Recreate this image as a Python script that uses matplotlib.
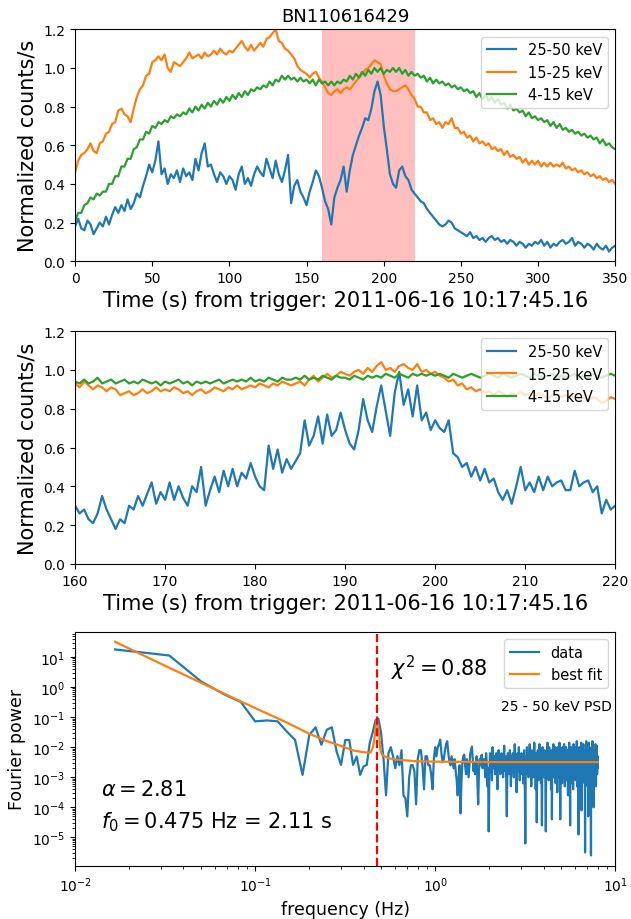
import numpy as np
import matplotlib
matplotlib.use('Agg')
import matplotlib.pyplot as plt

title = 'BN110616429'
time_label = 'Time (s) from trigger: 2011-06-16 10:17:45.16'
band_labels = ['25-50 keV', '15-25 keV', '4-15 keV']
colors = ['#1f77b4', '#ff7f0e', '#2ca02c']

# top panel: light curves, one value every 2 s from 0 to 350 s
lc_high = [0.18, 0.22, 0.17, 0.16, 0.21, 0.19, 0.14, 0.17, 0.20, 0.18,
	0.23, 0.19, 0.24, 0.28, 0.25, 0.29, 0.26, 0.32, 0.27, 0.30,
	0.35, 0.33, 0.39, 0.44, 0.50, 0.46, 0.52, 0.62, 0.45, 0.48,
	0.40, 0.45, 0.43, 0.47, 0.41, 0.48, 0.44, 0.46, 0.42, 0.53,
	0.47, 0.56, 0.61, 0.49, 0.50, 0.45, 0.41, 0.46, 0.44, 0.40,
	0.44, 0.42, 0.37, 0.45, 0.49, 0.40, 0.43, 0.39, 0.45, 0.49,
	0.46, 0.44, 0.53, 0.48, 0.43, 0.52, 0.45, 0.41, 0.47, 0.55,
	0.30, 0.39, 0.42, 0.36, 0.33, 0.29, 0.36, 0.41, 0.47, 0.44,
	0.38, 0.31, 0.27, 0.19, 0.33, 0.38, 0.42, 0.49, 0.36, 0.47,
	0.55, 0.60, 0.65, 0.69, 0.74, 0.73, 0.79, 0.88, 0.93, 0.86,
	0.70, 0.58, 0.45, 0.40, 0.38, 0.47, 0.49, 0.44, 0.42, 0.37,
	0.35, 0.33, 0.31, 0.30, 0.27, 0.25, 0.23, 0.21, 0.19, 0.18,
	0.19, 0.21, 0.20, 0.17, 0.16, 0.15, 0.14, 0.13, 0.15, 0.12,
	0.13, 0.11, 0.12, 0.10, 0.12, 0.13, 0.11, 0.12, 0.10, 0.11,
	0.09, 0.11, 0.10, 0.08, 0.10, 0.09, 0.07, 0.09, 0.08, 0.10,
	0.09, 0.11, 0.08, 0.10, 0.07, 0.09, 0.08, 0.10, 0.11, 0.09,
	0.10, 0.12, 0.08, 0.10, 0.09, 0.07, 0.09, 0.08, 0.06, 0.09,
	0.07, 0.06, 0.08, 0.05, 0.07, 0.08]
lc_mid = [0.46, 0.52, 0.55, 0.56, 0.58, 0.61, 0.57, 0.56, 0.61, 0.62,
	0.66, 0.67, 0.71, 0.72, 0.78, 0.79, 0.76, 0.75, 0.72, 0.79,
	0.85, 0.89, 0.91, 0.96, 0.97, 1.03, 1.04, 1.06, 1.04, 1.07,
	1.00, 0.98, 1.03, 1.02, 1.01, 1.03, 1.05, 1.08, 1.05, 1.06,
	1.07, 1.05, 1.08, 1.06, 1.07, 1.09, 1.07, 1.10, 1.08, 1.07,
	1.09, 1.08, 1.10, 1.12, 1.14, 1.11, 1.09, 1.12, 1.09, 1.11,
	1.13, 1.11, 1.15, 1.16, 1.18, 1.20, 1.14, 1.13, 1.10, 1.09,
	1.07, 1.05, 1.01, 0.99, 0.98, 0.97, 0.95, 0.97, 0.98, 0.95,
	0.93, 0.90, 0.87, 0.86, 0.88, 0.89, 0.87, 0.89, 0.90, 0.89,
	0.91, 0.93, 0.95, 0.97, 0.99, 1.00, 1.02, 1.04, 1.03, 1.02,
	0.96, 0.92, 0.89, 0.88, 0.88, 0.89, 0.90, 0.91, 0.89, 0.86,
	0.84, 0.80, 0.80, 0.77, 0.77, 0.73, 0.74, 0.71, 0.72, 0.69,
	0.72, 0.71, 0.74, 0.69, 0.69, 0.66, 0.67, 0.64, 0.65, 0.62,
	0.64, 0.61, 0.62, 0.60, 0.61, 0.58, 0.59, 0.57, 0.58, 0.55,
	0.57, 0.54, 0.55, 0.53, 0.54, 0.51, 0.53, 0.50, 0.52, 0.50,
	0.52, 0.49, 0.51, 0.49, 0.51, 0.49, 0.50, 0.49, 0.51, 0.48,
	0.49, 0.47, 0.48, 0.46, 0.47, 0.45, 0.46, 0.44, 0.45, 0.43,
	0.44, 0.42, 0.43, 0.41, 0.42, 0.40]
lc_low = [0.21, 0.25, 0.25, 0.29, 0.30, 0.33, 0.32, 0.35, 0.34, 0.36,
	0.36, 0.40, 0.40, 0.44, 0.44, 0.49, 0.49, 0.53, 0.53, 0.58,
	0.59, 0.63, 0.63, 0.67, 0.66, 0.70, 0.69, 0.72, 0.71, 0.73,
	0.72, 0.75, 0.74, 0.76, 0.75, 0.77, 0.76, 0.79, 0.77, 0.80,
	0.78, 0.81, 0.79, 0.82, 0.80, 0.83, 0.81, 0.84, 0.82, 0.85,
	0.83, 0.86, 0.84, 0.87, 0.85, 0.88, 0.86, 0.89, 0.88, 0.90,
	0.89, 0.91, 0.90, 0.93, 0.91, 0.94, 0.93, 0.96, 0.94, 0.96,
	0.94, 0.95, 0.93, 0.95, 0.93, 0.94, 0.92, 0.94, 0.91, 0.94,
	0.92, 0.93, 0.91, 0.93, 0.91, 0.93, 0.92, 0.94, 0.93, 0.96,
	0.94, 0.97, 0.95, 0.98, 0.96, 0.99, 0.97, 1.00, 0.98, 1.00,
	0.97, 0.99, 0.98, 1.00, 0.98, 1.00, 0.97, 0.99, 0.96, 0.98,
	0.96, 0.97, 0.95, 0.96, 0.93, 0.95, 0.92, 0.94, 0.92, 0.93,
	0.91, 0.92, 0.90, 0.91, 0.89, 0.90, 0.88, 0.89, 0.87, 0.88,
	0.85, 0.87, 0.84, 0.86, 0.83, 0.85, 0.82, 0.84, 0.81, 0.82,
	0.79, 0.81, 0.78, 0.79, 0.77, 0.78, 0.75, 0.77, 0.74, 0.75,
	0.73, 0.74, 0.72, 0.73, 0.70, 0.72, 0.69, 0.71, 0.68, 0.69,
	0.67, 0.68, 0.66, 0.67, 0.65, 0.66, 0.64, 0.65, 0.63, 0.64,
	0.61, 0.63, 0.60, 0.61, 0.59, 0.58]

# middle panel: zoom on 160-220 s, one value every 0.5 s
zoom_high = [0.30, 0.26, 0.28, 0.23, 0.21, 0.26, 0.35, 0.28, 0.23, 0.18,
	0.23, 0.21, 0.30, 0.28, 0.35, 0.30, 0.36, 0.42, 0.31, 0.37,
	0.33, 0.42, 0.33, 0.40, 0.34, 0.30, 0.40, 0.37, 0.50, 0.30,
	0.38, 0.45, 0.37, 0.48, 0.40, 0.49, 0.40, 0.47, 0.44, 0.52,
	0.45, 0.40, 0.38, 0.61, 0.49, 0.59, 0.47, 0.54, 0.49, 0.53,
	0.57, 0.74, 0.61, 0.66, 0.76, 0.62, 0.77, 0.66, 0.69, 0.78,
	0.69, 0.62, 0.59, 0.69, 0.85, 0.74, 0.68, 0.81, 0.92, 0.79,
	0.66, 0.88, 0.99, 0.82, 0.90, 0.76, 0.92, 0.74, 0.78, 0.69,
	0.74, 0.70, 0.68, 0.74, 0.57, 0.55, 0.50, 0.52, 0.45, 0.50,
	0.43, 0.49, 0.42, 0.44, 0.37, 0.33, 0.38, 0.31, 0.40, 0.50,
	0.38, 0.42, 0.37, 0.45, 0.38, 0.45, 0.40, 0.42, 0.43, 0.38,
	0.38, 0.48, 0.40, 0.42, 0.43, 0.37, 0.40, 0.26, 0.33, 0.28,
	0.30]
zoom_mid = [0.93, 0.91, 0.94, 0.92, 0.90, 0.92, 0.91, 0.89, 0.91, 0.90,
	0.87, 0.88, 0.89, 0.87, 0.88, 0.90, 0.88, 0.89, 0.91, 0.89,
	0.90, 0.89, 0.91, 0.90, 0.88, 0.89, 0.87, 0.89, 0.90, 0.88,
	0.89, 0.91, 0.90, 0.89, 0.91, 0.90, 0.92, 0.90, 0.91, 0.92,
	0.91, 0.93, 0.92, 0.91, 0.93, 0.92, 0.94, 0.93, 0.92, 0.93,
	0.94, 0.92, 0.95, 0.97, 0.94, 0.96, 0.98, 0.96, 0.97, 0.99,
	0.98, 0.97, 0.99, 1.00, 0.98, 1.01, 0.99, 1.02, 1.04, 1.00,
	1.01, 0.99, 1.02, 1.03, 1.01, 1.00, 1.03, 0.99, 1.00, 0.98,
	0.99, 0.97, 0.96, 0.94, 0.95, 0.92, 0.93, 0.90, 0.91, 0.89,
	0.90, 0.88, 0.89, 0.87, 0.89, 0.88, 0.86, 0.88, 0.87, 0.89,
	0.87, 0.88, 0.86, 0.88, 0.87, 0.85, 0.87, 0.88, 0.86, 0.87,
	0.86, 0.87, 0.85, 0.86, 0.84, 0.86, 0.85, 0.83, 0.84, 0.86,
	0.85]
zoom_low = [0.94, 0.93, 0.95, 0.93, 0.94, 0.96, 0.93, 0.94, 0.95, 0.93,
	0.94, 0.95, 0.93, 0.94, 0.93, 0.95, 0.94, 0.93, 0.94, 0.92,
	0.94, 0.93, 0.94, 0.95, 0.93, 0.94, 0.92, 0.94, 0.93, 0.94,
	0.93, 0.94, 0.95, 0.93, 0.94, 0.95, 0.94, 0.95, 0.94, 0.96,
	0.94, 0.95, 0.94, 0.96, 0.95, 0.94, 0.96, 0.95, 0.95, 0.96,
	0.95, 0.97, 0.95, 0.96, 0.95, 0.97, 0.96, 0.95, 0.97, 0.96,
	0.96, 0.95, 0.97, 0.96, 0.95, 0.97, 0.96, 0.97, 0.96, 0.98,
	0.97, 0.96, 0.98, 0.97, 0.96, 0.98, 0.97, 0.98, 0.97, 0.98,
	0.97, 0.98, 0.97, 0.96, 0.98, 0.97, 0.96, 0.97, 0.98, 0.97,
	0.96, 0.97, 0.98, 0.97, 0.96, 0.98, 0.97, 0.96, 0.97, 0.98,
	0.97, 0.96, 0.98, 0.97, 0.96, 0.97, 0.98, 0.96, 0.97, 0.96,
	0.97, 0.98, 0.96, 0.97, 0.96, 0.98, 0.97, 0.96, 0.97, 0.98,
	0.97]

# bottom panel: power spectrum, bins of 1/60 Hz, log10 of power
psd_log10 = [1.25, 1.05, 0.19, -0.23, -0.5, -1.14, -1.11, -1.14, -1.48, -1.76,
	-2.92, -1.59, -1.34, -1.92, -1.42, -1.34, -2.14, -2.59, -1.76, -1.76,
	-2.59, -2.31, -2.92, -2.64, -2.59, -1.85, -1.5, -1.1, -1.05, -1.5,
	-2.4, -3.6, -2.2, -2.0, -2.3, -2.7, -2.3, -2.6, -2.1, -3.6,
	-3.7, -4.3, -3.0, -2.6, -2.6, -2.8, -3.9, -2.4, -2.1, -2.1,
	-2.6, -3.4, -2.3, -2.3, -2.6, -2.6, -2.9, -3.4, -2.4, -2.0,
	-2.3, -2.0, -1.9, -1.75, -2.2, -2.5, -2.4, -2.1, -1.9, -1.8,
	-2.2, -2.5, -2.6, -2.3, -2.5, -2.7, -2.4, -2.8, -3.1, -3.6,
	-3.0, -2.6, -4.2, -3.1, -2.5, -2.3, -2.25, -2.6, -2.9, -2.4,
	-2.7, -3.0, -2.6, -2.2, -2.1, -1.98, -2.4, -2.8, -2.5, -2.9,
	-2.6, -2.3, -3.2, -3.9, -2.8, -2.4, -2.6, -2.3, -2.25, -2.7,
	-2.5, -2.4, -2.6, -3.0, -2.2, -2.5, -3.3, -2.7, -4.8, -2.9,
	-2.2, -2.6, -2.4, -3.1, -2.0, -2.5, -2.7, -2.3, -2.9, -2.4,
	-2.2, -2.8, -3.4, -2.6, -2.1, -2.5, -2.3, -2.9, -2.6, -2.2,
	-2.7, -2.4, -3.0, -2.5, -1.95, -2.6, -2.8, -2.3, -3.2, -4.3,
	-2.7, -2.2, -2.5, -2.9, -2.4, -2.1, -2.6, -3.3, -2.5, -2.3,
	-2.8, -2.2, -2.6, -3.0, -2.4, -1.9, -2.5, -2.7, -2.3, -3.5,
	-2.6, -2.2, -2.8, -2.4, -2.0, -2.6, -3.1, -2.5, -2.3, -2.7,
	-2.2, -2.9, -2.5, -2.4, -3.2, -2.6, -2.1, -2.8, -3.6, -5.2,
	-2.7, -2.3, -2.5, -2.0, -2.9, -2.4, -2.6, -3.0, -2.2, -2.5,
	-1.9, -2.6, -2.8, -2.3, -3.3, -2.5, -2.1, -2.7, -2.4, -3.0,
	-2.2, -2.6, -1.85, -2.5, -2.9, -2.3, -3.4, -2.6, -2.2, -4.5,
	-2.7, -2.4, -2.1, -2.8, -2.5, -3.1, -2.3, -1.9, -2.6, -2.9,
	-2.4, -2.2, -3.2, -2.7, -4.6, -2.5, -2.0, -2.8, -2.4, -2.6,
	-3.0, -2.3, -2.1, -2.7, -2.5, -3.3, -4.8, -2.6, -2.2, -2.9,
	-2.4, -1.85, -2.6, -2.8, -2.3, -3.1, -2.5, -2.0, -2.7, -2.4,
	-2.9, -2.2, -2.6, -3.4, -2.5, -2.1, -4.4, -2.7, -2.3, -2.8,
	-2.5, -1.9, -2.6, -3.0, -2.4, -2.2, -2.9, -2.6, -2.0, -3.2,
	-2.5, -2.3, -2.8, -2.1, -2.6, -3.5, -2.4, -2.0, -2.7, -2.5,
	-3.0, -2.2, -2.6, -1.85, -2.8, -2.4, -4.4, -2.6, -2.3, -2.9,
	-2.1, -2.5, -2.7, -3.2, -2.4, -2.0, -2.8, -2.6, -2.3, -3.0,
	-2.5, -1.9, -2.7, -2.4, -3.3, -2.2, -2.6, -2.9, -2.4, -2.0,
	-2.7, -2.5, -3.1, -2.3, -2.6, -2.1, -2.8, -3.6, -2.4, -2.2,
	-2.9, -2.5, -1.85, -2.7, -2.4, -3.0, -4.6, -2.6, -2.2, -2.8,
	-2.5, -2.0, -2.6, -3.2, -2.4, -2.7, -2.1, -2.9, -2.5, -3.4,
	-2.3, -1.9, -2.6, -2.8, -2.4, -2.2, -3.0, -2.6, -2.0, -2.7,
	-2.4, -3.1, -2.5, -2.2, -2.8, -2.6, -1.8, -2.5, -3.3, -2.4,
	-2.7, -2.1, -2.9, -2.5, -4.9, -2.6, -2.3, -2.8, -2.0, -2.6,
	-3.0, -2.4, -2.2, -2.7, -2.5, -3.5, -2.3, -1.85, -2.6, -4.1,
	-2.4, -2.1, -2.7, -3.2, -2.5, -2.2, -2.8, -2.6, -1.9, -2.4,
	-3.0, -2.6, -2.3, -2.8, -2.5, -2.1, -3.4, -5.5, -2.7, -2.2,
	-2.6, -2.9, -2.4, -1.8, -2.6, -3.1, -2.5, -2.3, -2.8, -2.0,
	-2.6, -3.3, -2.4, -2.7, -4.3, -2.9, -2.5, -1.85, -2.6, -3.0,
	-2.4, -2.1, -2.8, -3.6, -2.5, -2.2, -2.7, -2.4, -3.9, -5.6,
	-2.6, -2.3, -2.0, -2.8, -2.5, -3.2, -2.4, -1.8, -2.7, -2.6,
	-2.2, -2.9, -2.5, -3.4, -4.0, -2.0, -2.7, -2.5, -3.0, -2.4,
	-2.1, -2.8, -2.6, -3.1, -2.3, -1.9, -2.7, -2.5, -3.3, -2.4,
	-2.2, -2.8, -2.6, -1.95, -2.5, -2.9, -2.4, -2.7, -2.3, -2.5]

fit_freq = [0.0167, 0.025, 0.0333, 0.05, 0.0667, 0.1, 0.15, 0.2, 0.25, 0.3,
	0.35, 0.4, 0.437, 0.45, 0.46, 0.468, 0.475, 0.482, 0.49, 0.497,
	0.51, 0.53, 0.55, 0.6, 0.7, 0.8, 1.0, 2.0, 4.0, 8.0]
fit_power = [32, 10, 4.4, 1.4, 0.62, 0.2, 0.066, 0.028, 0.016, 0.011,
	0.0078, 0.0068, 0.0066, 0.0095, 0.02, 0.05, 0.087, 0.05, 0.02, 0.0075,
	0.0055, 0.0048, 0.0043, 0.0039, 0.0036, 0.0034, 0.0033, 0.0032, 0.0032, 0.0032]

qpo_freq = 0.475
alpha = 2.81
chi2 = 0.88


def plot_lightcurves(ax, t, curves, xlim, xticks):
	for values, color, label in zip(curves, colors, band_labels):
		ax.plot(t, values, color=color, lw=1.6, label=label)
	ax.set_xlim(xlim)
	ax.set_ylim(0, 1.2)
	ax.set_xticks(xticks)
	ax.set_yticks(np.arange(0, 1.21, 0.2))
	ax.set_xlabel(time_label, fontsize=15)
	ax.set_ylabel('Normalized counts/s', fontsize=15)
	ax.legend(loc='upper right', fontsize=10.5)


def plot_psd(ax):
	power = 10 ** np.array(psd_log10)
	freq = np.arange(1, len(power) + 1) / 60.0
	ax.plot(freq, power, color=colors[0], lw=1.6, label='data')
	ax.plot(fit_freq, fit_power, color=colors[1], lw=1.6, label='best fit')
	ax.axvline(qpo_freq, color='red', ls='--', lw=1.6)
	ax.set_xscale('log')
	ax.set_yscale('log')
	ax.set_xlim(1e-2, 10)
	ax.set_ylim(1.15e-6, 68)
	ax.set_xlabel('frequency (Hz)', fontsize=12.5)
	ax.set_ylabel('Fourier power', fontsize=12.5)
	ax.legend(loc='upper right', fontsize=10.5)
	ax.text(0.585, 0.85, r'$\chi^2 = %.2f$' % chi2, transform=ax.transAxes,
		fontsize=15, va='center')
	ax.text(0.993, 0.685, '25 - 50 keV PSD', transform=ax.transAxes,
		fontsize=10, ha='right', va='center')
	ax.text(0.048, 0.33, r'$\alpha = %.2f$' % alpha, transform=ax.transAxes,
		fontsize=15, va='center')
	ax.text(0.048, 0.19, r'$f_0 = %.3f$ Hz = %.2f s' % (qpo_freq, 1 / qpo_freq),
		transform=ax.transAxes, fontsize=15, va='center')


fig = plt.figure(figsize=(6.31, 9.2), dpi=100)

ax1 = fig.add_axes([0.119, 0.715, 0.856, 0.252])
t_full = np.linspace(0, 350, len(lc_high))
ax1.axvspan(160, 220, color='red', alpha=0.25, lw=0)
plot_lightcurves(ax1, t_full, [lc_high, lc_mid, lc_low], (0, 350), np.arange(0, 351, 50))
ax1.set_title(title, fontsize=13)

ax2 = fig.add_axes([0.119, 0.386, 0.856, 0.253])
t_zoom = np.linspace(160, 220, len(zoom_high))
plot_lightcurves(ax2, t_zoom, [zoom_high, zoom_mid, zoom_low], (160, 220), np.arange(160, 221, 10))

ax3 = fig.add_axes([0.119, 0.058, 0.856, 0.254])
plot_psd(ax3)

fig.savefig('out.png', dpi=100)
